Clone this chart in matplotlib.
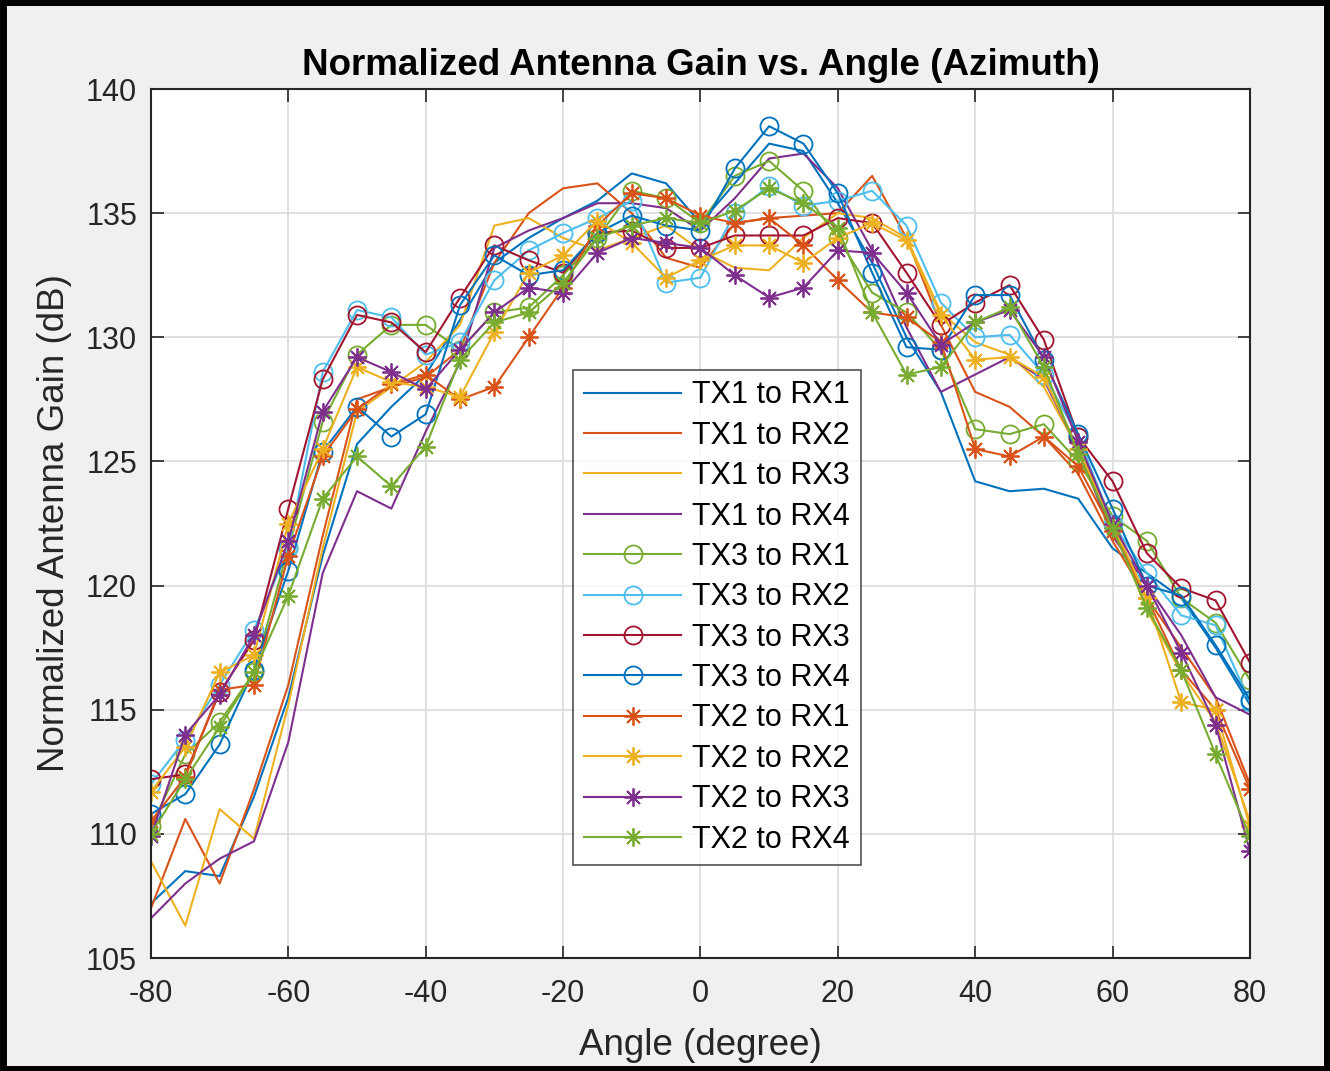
import numpy as np
import matplotlib
matplotlib.use('Agg')
import matplotlib.pyplot as plt
from matplotlib.patches import Rectangle

plt.rcParams['font.family'] = ['Liberation Sans', 'DejaVu Sans']
plt.rcParams['axes.unicode_minus'] = False

# angle sweep (degree)
angle = np.arange(-80, 81, 5)

# TX1 series (lines only)
tx1_rx1 = [107.2, 108.5, 108.3, 111.5, 115.5, 121.2, 125.7, 127.2, 128.5, 130.7, 133.0,
           134.0, 134.8, 135.5, 136.6, 136.2, 134.6, 136.2, 137.8, 137.5, 135.4, 133.0,
           130.0, 127.8, 124.2, 123.8, 123.9, 123.5, 121.5, 120.5, 119.5, 117.5, 115.2]
tx1_rx2 = [107.0, 110.6, 108.0, 111.8, 116.0, 122.0, 127.5, 128.0, 128.4, 129.5, 133.0,
           135.0, 136.0, 136.2, 135.0, 133.2, 132.8, 134.6, 134.8, 134.9, 135.0, 136.5,
           134.0, 130.5, 127.8, 127.2, 126.0, 124.5, 121.8, 119.5, 117.5, 115.5, 112.0]
tx1_rx3 = [108.9, 106.3, 111.0, 109.8, 115.2, 121.5, 127.0, 128.0, 129.0, 130.5, 134.5,
           134.8, 134.0, 133.5, 134.0, 134.5, 133.5, 132.8, 132.7, 134.0, 135.0, 134.8,
           134.0, 131.0, 129.8, 129.3, 128.0, 125.5, 122.5, 119.0, 116.5, 114.5, 110.5]
tx1_rx4 = [106.6, 108.0, 109.0, 109.7, 113.7, 120.5, 123.8, 123.1, 126.2, 129.0, 133.6,
           134.3, 134.8, 135.4, 135.4, 135.2, 134.3, 135.6, 137.2, 137.4, 136.0, 133.5,
           130.4, 127.8, 128.5, 129.2, 128.3, 125.5, 122.0, 120.0, 118.0, 115.5, 114.8]

# TX3 series (circle markers)
tx3_rx1 = [110.3, 113.2, 114.5, 116.5, 121.5, 126.6, 129.3, 130.5, 130.5, 129.5, 131.0,
           131.2, 132.5, 134.0, 135.9, 135.6, 134.6, 136.5, 137.1, 135.9, 134.0, 131.8,
           131.0, 129.5, 126.3, 126.1, 126.5, 125.0, 122.8, 121.8, 119.5, 118.5, 116.2]
tx3_rx2 = [112.0, 113.8, 116.0, 118.2, 121.5, 128.6, 131.1, 130.8, 129.3, 129.8, 132.3,
           133.5, 134.2, 134.8, 135.5, 132.2, 132.4, 135.0, 136.1, 135.3, 135.5, 135.9,
           134.5, 131.4, 130.0, 130.1, 128.5, 126.0, 122.5, 120.5, 118.8, 118.4, 115.3]
tx3_rx3 = [112.2, 112.4, 115.7, 117.8, 123.1, 128.3, 130.9, 130.6, 129.4, 131.6, 133.7,
           133.1, 132.6, 134.2, 134.3, 133.6, 133.6, 134.1, 134.1, 134.1, 134.8, 134.6,
           132.6, 130.5, 131.4, 132.1, 129.9, 126.0, 124.2, 121.3, 119.9, 119.4, 116.9]
tx3_rx4 = [110.8, 111.6, 113.6, 116.6, 120.6, 125.4, 127.2, 126.0, 126.9, 131.3, 133.3,
           132.5, 132.7, 134.2, 134.9, 134.5, 134.3, 136.8, 138.5, 137.8, 135.8, 132.6,
           129.6, 129.5, 131.7, 131.7, 129.1, 126.1, 123.1, 120.0, 119.6, 117.6, 115.4]

# TX2 series (asterisk markers)
tx2_rx1 = [110.5, 112.3, 115.8, 116.0, 121.2, 125.2, 127.1, 128.1, 128.5, 127.5, 128.0,
           130.0, 132.0, 134.5, 135.8, 135.6, 134.9, 134.6, 134.8, 133.7, 132.3, 131.0,
           130.8, 129.8, 125.5, 125.2, 126.0, 124.8, 122.2, 119.5, 116.6, 115.0, 111.8]
tx2_rx2 = [111.7, 113.5, 116.5, 117.2, 122.5, 125.5, 128.8, 128.2, 128.0, 127.6, 130.2,
           132.6, 133.3, 134.7, 133.8, 132.4, 133.1, 133.7, 133.7, 133.0, 134.0, 134.6,
           133.9, 130.9, 129.1, 129.2, 128.4, 125.5, 122.5, 119.5, 115.3, 115.0, 110.3]
tx2_rx3 = [109.9, 114.0, 115.6, 118.0, 121.8, 127.0, 129.2, 128.6, 127.9, 129.5, 131.0,
           132.0, 131.8, 133.4, 134.0, 133.8, 133.6, 132.5, 131.6, 132.0, 133.5, 133.4,
           131.8, 129.7, 130.6, 131.1, 129.2, 125.8, 122.5, 120.0, 117.3, 114.4, 109.3]
tx2_rx4 = [110.0, 112.2, 114.3, 116.5, 119.6, 123.5, 125.2, 124.0, 125.6, 129.1, 130.6,
           131.0, 132.2, 134.0, 134.5, 134.8, 134.6, 135.1, 136.0, 135.4, 134.4, 131.0,
           128.5, 128.8, 130.6, 131.2, 128.8, 125.3, 122.3, 119.1, 116.6, 113.2, 109.9]

labels = ['TX1 to RX1', 'TX1 to RX2', 'TX1 to RX3', 'TX1 to RX4',
          'TX3 to RX1', 'TX3 to RX2', 'TX3 to RX3', 'TX3 to RX4',
          'TX2 to RX1', 'TX2 to RX2', 'TX2 to RX3', 'TX2 to RX4']
series = [tx1_rx1, tx1_rx2, tx1_rx3, tx1_rx4,
          tx3_rx1, tx3_rx2, tx3_rx3, tx3_rx4,
          tx2_rx1, tx2_rx2, tx2_rx3, tx2_rx4]

# matlab default color order
mcolors = ['#0072BD', '#D95319', '#EDB120', '#7E2F8E', '#77AC30', '#4DBEEE', '#A2142F']
star = (8, 2, 0)
markers = [None] * 4 + ['o'] * 4 + [star] * 4

fig = plt.figure(figsize=(13.3, 10.71), dpi=100, facecolor='#F0F0F0')
ax = fig.add_axes([0.1135, 0.1055, 0.8263, 0.8114])

for i, (y, lab) in enumerate(zip(series, labels)):
    ax.plot(angle, y, color=mcolors[i % 7], lw=1.5, marker=markers[i],
            markersize=13, fillstyle='none', markeredgewidth=1.3, label=lab)

ax.set_xlim(-80, 80)
ax.set_ylim(105, 140)
ax.set_xticks(np.arange(-80, 81, 20))
ax.set_yticks(np.arange(105, 141, 5))
ax.grid(True, color='#DCDCDC', lw=1.2)
ax.set_axisbelow(True)
ax.tick_params(direction='in', top=True, right=True, length=9, width=1.2,
               labelsize=22, colors='#262626')
ax.tick_params(axis='x', pad=15)
ax.tick_params(axis='y', pad=10)
for s in ax.spines.values():
    s.set_color('#262626')
    s.set_linewidth(1.5)

ax.set_title('Normalized Antenna Gain vs. Angle (Azimuth)', fontsize=26.5,
             fontweight='bold', pad=10)
ax.set_xlabel('Angle (degree)', fontsize=26.5, color='#262626', labelpad=14)
ax.set_ylabel('Normalized Antenna Gain (dB)', fontsize=26.5, color='#262626', labelpad=10)

leg = ax.legend(loc='upper left', bbox_to_anchor=(0.384, 0.677), fontsize=22,
                frameon=True, fancybox=False, edgecolor='#262626',
                handlelength=3.2, labelspacing=0.34, borderpad=0.35,
                handletextpad=0.35, borderaxespad=0)
leg.get_frame().set_linewidth(1.2)

# black frame round the picture
fig.patches.append(Rectangle((0.002, 0.002), 0.996, 0.996, transform=fig.transFigure,
                             fill=False, edgecolor='black', lw=5))

fig.savefig('out.png', dpi=100, facecolor=fig.get_facecolor())
